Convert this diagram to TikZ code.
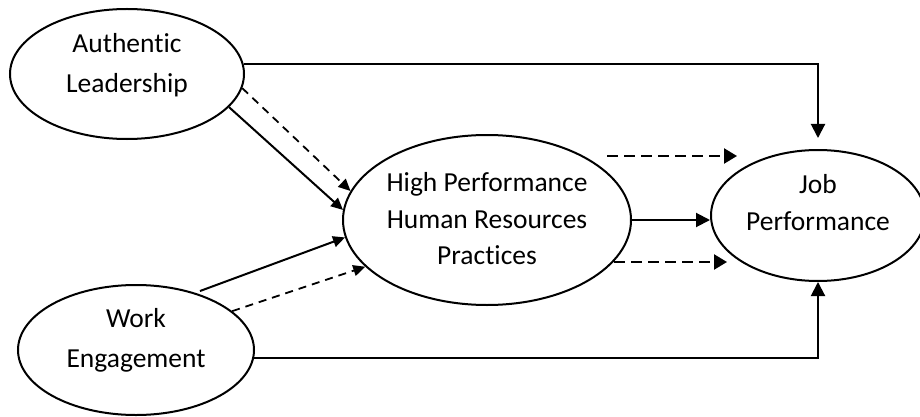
\documentclass[tikz,border=0pt]{standalone}
\usepackage{fontspec}
\setmainfont{Carlito}[Ligatures={NoCommon,NoContextual}]
\usetikzlibrary{shapes.geometric,arrows.meta}
\begin{document}
\begin{tikzpicture}[x=1pt,y=-1pt,
  construct/.style={draw,ellipse,line width=2pt,inner sep=0pt},
  caption/.style={align=center,font=\fontsize{27.5}{#1}\selectfont},
  path/.style={line width=2pt,-{Triangle[length=14pt,width=14pt]}},
  dpath/.style={line width=2.4pt,dash pattern=on 11pt off 6pt,-{Triangle[length=13pt,width=15pt]}},
  dlink/.style={line width=1.8pt,dash pattern=on 8pt off 6pt,-{Triangle[length=12pt,width=11pt]}},
  slink/.style={line width=2pt,-{Triangle[length=12pt,width=11pt]}}]
\useasboundingbox (0,0) rectangle (920,417);

% constructs
\node[construct,minimum width=234pt,minimum height=130pt,
  label={[caption=40,yshift=9pt]center:Authentic\\Leadership}] (al) at (127,74) {};
\node[construct,minimum width=236pt,minimum height=130pt,
  label={[caption=40,yshift=10pt]center:Work\\Engagement}] (we) at (136,350) {};
\node[construct,minimum width=288pt,minimum height=170pt,
  label={[caption=36.5,yshift=1pt]center:High Performance\\Human Resources\\Practices}] (hp) at (487,220) {};
\node[construct,minimum width=214pt,minimum height=131pt,
  label={[caption=37,yshift=13pt]center:Job\\Performance}] (jp) at (818,215.5) {};

% direct effects
\draw[path,shorten >=11pt] (al.5) -| (jp.north);
\draw[path] (we.-4) -| (jp.south);
\draw[path] (hp.east) -- (hp.east -| jp.west);

% effects on HPHRP
\draw[slink] (al.-18) -- (hp.176);
\draw[dlink] (al.-7) -- (hp.168);
\draw[slink,shorten <=5pt] (we.44) -- (hp.187);
\draw[dlink] (we.22) -- (hp.201);

% mediated paths
\coordinate (m1a) at ([shift={(120,-64)}]hp.center);
\coordinate (m1b) at ([shift={(-81,-59.5)}]jp.center);
\coordinate (m2a) at ([shift={(127,42)}]hp.center);
\coordinate (m2b) at ([shift={(-91,46.5)}]jp.center);
\draw[dpath] (m1a) -- (m1b);
\draw[dpath] (m2a) -- (m2b);
\end{tikzpicture}
\end{document}
